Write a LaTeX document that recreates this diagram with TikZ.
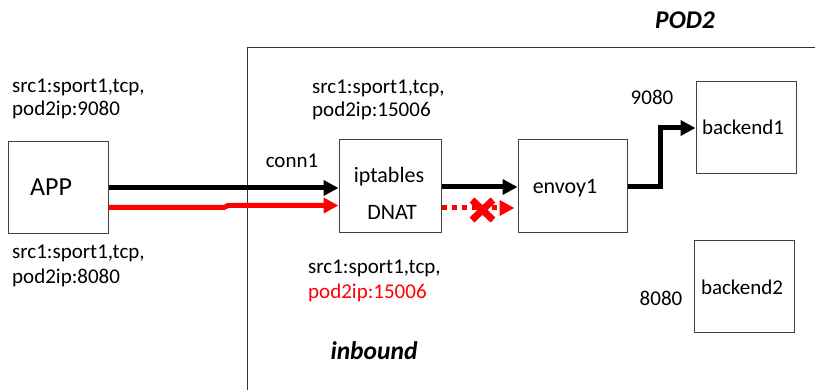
\documentclass[tikz,border=0pt]{standalone}
\usepackage{fontspec}
\setmainfont{Carlito}
\usetikzlibrary{arrows.meta}
\begin{document}
\begin{tikzpicture}[x=1pt,y=-1pt,
  box/.style={draw=black!75,line width=1pt,minimum width=#1,minimum height=92pt,inner sep=0pt},
  lbl/.style={anchor=base west,inner sep=0pt,font=\fontsize{21}{25}\selectfont},
  txt/.style={inner sep=0pt,font=\fontsize{21}{25}\selectfont},
  boxtxt/.style={inner sep=0pt,font=\fontsize{22}{26}\selectfont},
  bitxt/.style={inner sep=0pt,font=\fontsize{25.5}{30}\selectfont\bfseries\itshape},
  flow/.style={line width=5pt,-{Triangle[length=15pt,width=15pt]}},
  redflow/.style={flow,draw=red,color=red},
  frame/.style={draw=black!80,line width=1pt}]
\useasboundingbox (0,0) rectangle (815,390);
% pod frame
\coordinate (fr1) at (815,48);
\coordinate (fr2) at (247,48);
\coordinate (fr3) at (247,390);
\draw[frame] (fr1) -- (fr2) -- (fr3);
% boxes
\node[box=100pt] (app) at (58,187.5) {};
\node[inner sep=0pt,font=\fontsize{26}{30}\selectfont] (apptxt) at (51,187) {APP};
\node[box=102pt,minimum height=93pt] (ipt) at (390,186.5) {};
\node[boxtxt] (ipt1) at (389,177) {iptables};
\node[boxtxt] (ipt2) at (392,212) {DNAT};
\node[box=109pt,minimum height=93pt] (env) at (572.5,186.5) {};
\node[boxtxt] (envtxt) at (565,188) {envoy1};
\node[box=100pt] (b1) at (746,128) {};
\node[txt] (b1txt) at (743,127) {backend1};
\node[box=100pt] (b2) at (744,287) {};
\node[txt] (b2txt) at (742,287) {backend2};
% labels
\node[txt] (p9080) at (652,97) {9080};
\node[txt] (p8080) at (661,298) {8080};
\node[bitxt] (pod2) at (685,20) {POD2};
\node[bitxt] (inb) at (374,351) {inbound};
\node[txt] (conn) at (292,161) {conn1};
\node[lbl] (l1a) at (12,93) {src1:sport1,tcp,};
\node[lbl] (l1b) at (12,116) {pod2ip:9080};
\node[lbl] (l2a) at (12,259) {src1:sport1,tcp,};
\node[lbl] (l2b) at (12,284) {pod2ip:8080};
\node[lbl] (l3a) at (312,94) {src1:sport1,tcp,};
\node[lbl] (l3b) at (312,117) {pod2ip:15006};
\node[lbl] (l4a) at (308,274) {src1:sport1,tcp,};
\node[lbl,text=red] (l4b) at (308,299) {pod2ip:15006};
% connectors
\draw[flow] (app.east |- 0,188) -- (ipt.west |- 0,188);
\coordinate (rs1) at (224,207.5);
\coordinate (rs2) at (228,205.5);
\draw[redflow] (app.east |- 0,207.5) -- (rs1) -- (rs2) -- (ipt.west |- 0,205.5);
\draw[flow] (ipt.east |- 0,187) -- (env.west |- 0,187);
\draw[red,line width=5pt,dash pattern=on 5pt off 5pt,-{Triangle[length=15pt,width=15pt]},shorten >=3pt] (ipt.east |- 0,208) -- (env.west |- 0,208);
\coordinate (bend1) at (660,187);
\coordinate (bend2) at (660,128);
\draw[flow,line join=miter] (env.east |- 0,187) -- (bend1) -- (bend2) -- (b1.west);
% red cross
\coordinate (xa) at (472,200);
\coordinate (xb) at (493,220);
\coordinate (xc) at (472,220);
\coordinate (xd) at (493,200);
\draw[red,line width=7pt] (xa) -- (xb) (xc) -- (xd);
\end{tikzpicture}
\end{document}
